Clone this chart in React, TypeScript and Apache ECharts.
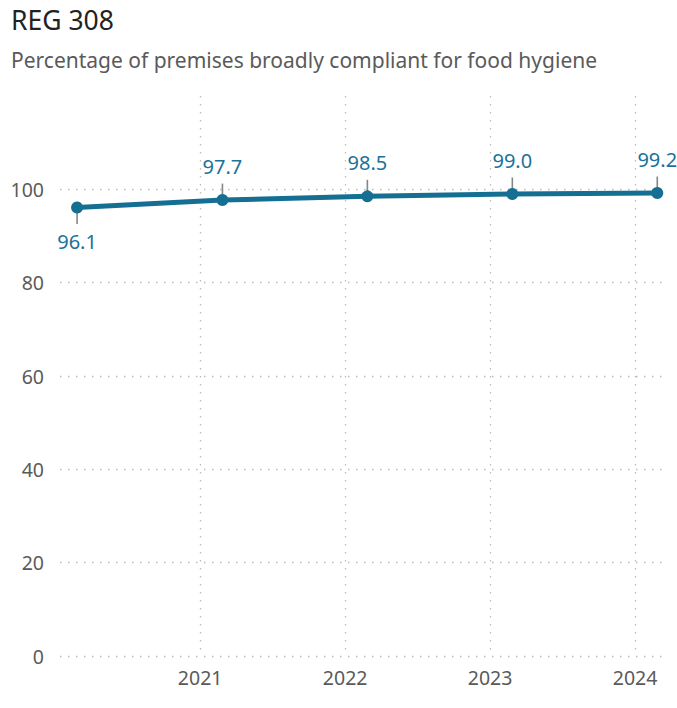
import React, { useEffect, useRef } from "react";
import * as echarts from "echarts";

const dates = ["2020-02-26", "2021-02-26", "2022-02-26", "2023-02-26", "2024-02-26"];
const values = [96.1, 97.7, 98.5, 99.0, 99.2];
const below = [true, false, false, false, false];
const yTicks = [0, 20, 40, 60, 80, 100, 120];
const xMin = "2020-01-14";
const xMax = "2024-03-24";
const titleText = "REG 308";
const subtitleText = "Percentage of premises broadly compliant for food hygiene";

const FONT = "'Noto Sans', 'Open Sans', sans-serif";
const LINE = "#156f93";
const LABEL = "#1c7298";
const GRID = "#bcbcbc";
const AXIS = "#5a5a5a";

export default function App() {
  const ref = useRef<HTMLDivElement>(null);
  useEffect(() => {
    if (!ref.current) return;
    const chart = echarts.init(ref.current, undefined, { renderer: "svg" });
    const data = dates.map((d, i) => ({
      value: [d, values[i]],
      label: { position: below[i] ? "bottom" : "top" },
    }));
    const leaders = dates.map((d, i) => ({
      value: [d, values[i]],
      symbolOffset: [0, below[i] ? 9 : -9],
    }));
    chart.setOption({
      animation: false,
      title: {
        text: titleText,
        subtext: subtitleText,
        left: 6,
        top: 1,
        itemGap: 16,
        textStyle: { fontFamily: FONT, fontSize: 26.5, fontWeight: "normal", color: "#222222" },
        subtextStyle: { fontFamily: FONT, fontSize: 21, color: "#5a5a5a" },
      },
      grid: { left: 60, right: 9, top: 96, bottom: 52 },
      xAxis: {
        type: "time",
        min: xMin,
        max: xMax,
        minInterval: 365 * 24 * 3600 * 1000,
        axisLine: { show: false },
        axisTick: { show: false },
        axisLabel: {
          formatter: "{yyyy}",
          fontFamily: FONT,
          fontSize: 19.5,
          color: AXIS,
          margin: 11,
          showMinLabel: false,
          showMaxLabel: false,
        },
        splitLine: {
          show: true,
          showMinLine: false,
          showMaxLine: false,
          lineStyle: { color: GRID, width: 1.3, type: [1.5, 6.5] },
        },
      },
      yAxis: {
        type: "value",
        min: yTicks[0],
        max: yTicks[yTicks.length - 1],
        interval: yTicks[1] - yTicks[0],
        axisLine: { show: false },
        axisTick: { show: false },
        axisLabel: {
          fontFamily: FONT,
          fontSize: 19.5,
          color: AXIS,
          margin: 16,
          showMaxLabel: false,
        },
        splitLine: {
          show: true,
          showMaxLine: false,
          lineStyle: { color: GRID, width: 1.3, type: [1.5, 6.5] },
        },
      },
      series: [
        {
          type: "scatter",
          data: leaders,
          symbol: "rect",
          symbolSize: [1.6, 15],
          itemStyle: { color: "#666666" },
          z: 1,
          silent: true,
        },
        {
          type: "line",
          data,
          z: 3,
          symbol: "circle",
          symbolSize: 12,
          lineStyle: { color: LINE, width: 5 },
          itemStyle: { color: LINE },
          label: {
            show: true,
            distance: 18,
            fontFamily: FONT,
            fontSize: 20,
            color: LABEL,
            formatter: (p: any) => Number(p.value[1]).toFixed(1),
          },
        },
      ],
    });
    return () => chart.dispose();
  }, []);
  return (
    <div
      ref={ref}
      style={{ position: "fixed", left: 0, top: 0, width: 677, height: 708, background: "#ffffff" }}
    />
  );
}
